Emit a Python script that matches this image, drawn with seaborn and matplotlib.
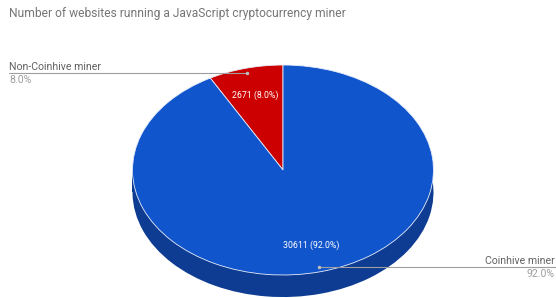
import numpy as np
import matplotlib
matplotlib.use("Agg")
import matplotlib.pyplot as plt
import seaborn as sns

labels = ["Non-Coinhive miner", "Coinhive miner"]
counts = [2671, 30611]
top_colors = ["#cc0000", "#1155cc"]
side_colors = ["#8f0000", "#0d3c92"]
title = "Number of websites running a JavaScript cryptocurrency miner"

sns.set_theme(style="white")
plt.rcParams["font.family"] = ["Roboto", "DejaVu Sans"]

W, H = 556, 298
fig = plt.figure(figsize=(W / 100, H / 100), dpi=100)
ax = fig.add_axes([0, 0, 1, 1])

# pixel layout of the pie: centre, horizontal and vertical radii
cx, cy, rx, ry = 283, 170, 150.5, 105
depth = 0.21  # thickness of the 3D rim, in y units

total = sum(counts)

# rim: lower copy of the pie plus the band joining it to the top face
ax.pie(counts, colors=side_colors, startangle=90, center=(0, -depth),
       wedgeprops=dict(linewidth=0))
ax.fill_between([-1, 1], -depth, 0, color=side_colors[1], linewidth=0)

wedges, _, autotexts = ax.pie(
    counts, colors=top_colors, startangle=90,
    autopct=lambda p: f"{round(p * total / 100)} ({p:.1f}%)",
    pctdistance=0.74,
    wedgeprops=dict(linewidth=0.6, edgecolor="#e8eefa"),
    textprops=dict(color="white", fontsize=6.3))

ax.set_aspect("auto")
ax.set_xlim(-cx / rx, (W - cx) / rx)
ax.set_ylim(-(H - cy) / ry, cy / ry)
ax.axis("off")

# leader lines and outside labels
for w, lab, cnt in zip(wedges, labels, counts):
    mid = np.deg2rad((w.theta1 + w.theta2) / 2)
    px, py = 0.95 * np.cos(mid), 0.95 * np.sin(mid)
    pct = f"{cnt / total * 100:.1f}%"
    if px < 0:
        x_end = -cx / rx + 9 / rx
        ha, tx = "left", 9 / W
    else:
        x_end = (W - cx) / rx
        ha, tx = "right", 555 / W
    ax.plot([px, x_end], [py, py], color="#9e9e9e", linewidth=0.8)
    ax.plot([px], [py], "o", color="#bdbdbd", markersize=1.5)
    ypix = cy - py * ry
    fig.text(tx, 1 - (ypix - 6) / H, lab, ha=ha, va="center",
             color="#616161", fontsize=7.6)
    fig.text(tx, 1 - (ypix + 7) / H, pct, ha=ha, va="center",
             color="#9e9e9e", fontsize=7.6)

fig.text(9 / W, 1 - 14 / H, title, ha="left", va="center",
         color="#757575", fontsize=8.65)

fig.savefig("out.png", dpi=100)
